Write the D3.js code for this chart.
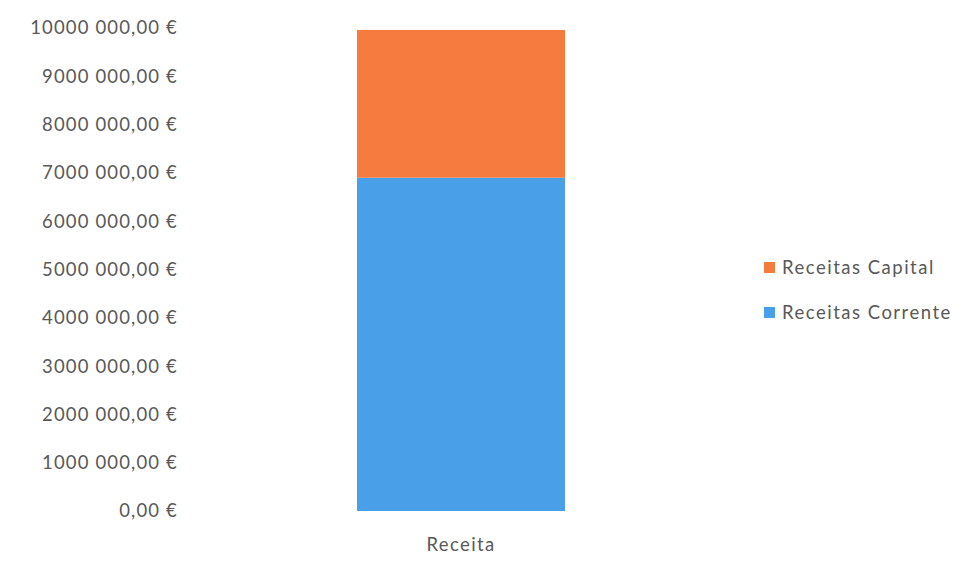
<!DOCTYPE html>
<html><head><meta charset="utf-8">
<script src="https://cdn.jsdelivr.net/npm/d3@7"></script>
<style>body{margin:0;background:#fff}svg{display:block}</style>
</head><body>
<svg id="chart" width="968" height="571"></svg>
<script>
const categories = ["Receita"];
const seriesNames = ["Receitas Corrente", "Receitas Capital"];
const receitasCorrente = [6900000];
const receitasCapital = [3060000];
const yTicks = [0,1000000,2000000,3000000,4000000,5000000,6000000,7000000,8000000,9000000,10000000];
const colors = {"Receitas Corrente": "#4a9fe9", "Receitas Capital": "#f57b3e"};

const svg = d3.select("#chart");
const font = "Lato, 'Open Sans', sans-serif";
const textColor = "#595959";

const y = d3.scaleLinear().domain([0, 10000000]).range([511, 28]);
const x = d3.scaleBand().domain(categories).range([201, 721]).paddingInner(0.6).paddingOuter(0.3);

function fmt(v){
  const s = d3.format(".2f")(v).replace(".", ",");
  const [int, dec] = s.split(",");
  let out = int;
  if (int.length > 3) out = int.slice(0, int.length-3) + " " + int.slice(-3);
  return out + "," + dec + " €";
}

const yAxis = d3.axisLeft(y).tickValues(yTicks).tickFormat(fmt).tickSize(0).tickPadding(0);
const gy = svg.append("g").attr("transform", "translate(178,0)").call(yAxis);
gy.select(".domain").remove();
gy.selectAll("text").attr("font-family", font).attr("font-size", 18.5)
  .attr("letter-spacing", 1.15).attr("fill", textColor);

const data = categories.map((c, i) => ({cat: c, "Receitas Corrente": receitasCorrente[i], "Receitas Capital": receitasCapital[i]}));
const stack = d3.stack().keys(seriesNames)(data);

svg.append("g").selectAll("g").data(stack).join("g")
  .attr("fill", d => colors[d.key])
  .selectAll("rect").data(d => d).join("rect")
  .attr("x", d => x(d.data.cat))
  .attr("width", x.bandwidth())
  .attr("y", d => y(d[1]))
  .attr("height", d => y(d[0]) - y(d[1]));

const xAxis = d3.axisBottom(x).tickSize(0).tickPadding(0);
const gx = svg.append("g").attr("transform", "translate(0,538)").call(xAxis);
gx.select(".domain").remove();
gx.selectAll("text").attr("font-family", font).attr("font-size", 18.5)
  .attr("letter-spacing", 1.4).attr("fill", textColor);

const legendItems = ["Receitas Capital", "Receitas Corrente"];
const lg = svg.append("g").selectAll("g").data(legendItems).join("g")
  .attr("transform", (d, i) => `translate(764,${268 + i*45})`);
lg.append("rect").attr("x", 0).attr("y", -6).attr("width", 11).attr("height", 11).attr("fill", d => colors[d]);
lg.append("text").attr("x", 18).attr("dy", "0.35em").text(d => d)
  .attr("font-family", font).attr("font-size", 18.5).attr("letter-spacing", 1.5).attr("fill", textColor);
</script>
</body></html>
